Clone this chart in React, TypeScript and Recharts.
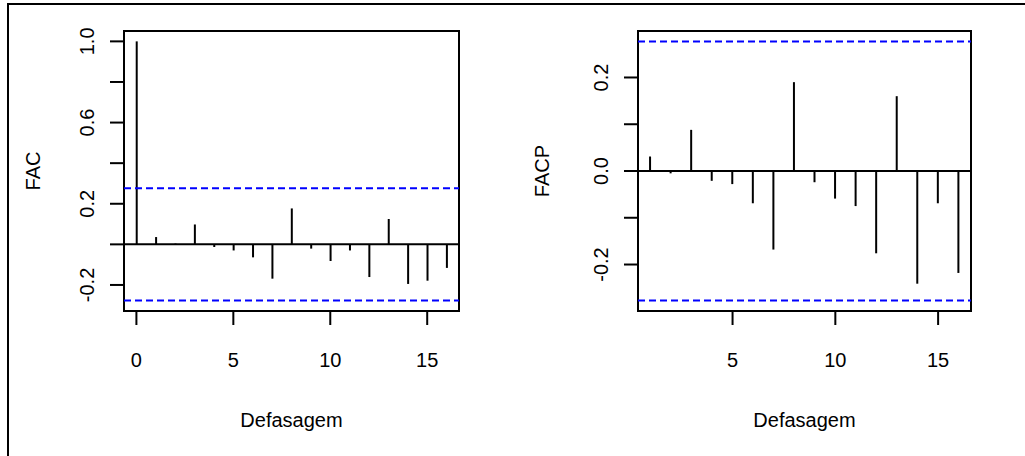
import { ComposedChart, Bar, XAxis, YAxis, ReferenceLine, ReferenceArea, Label } from 'recharts'

const acfLags = [0, 1, 2, 3, 4, 5, 6, 7, 8, 9, 10, 11, 12, 13, 14, 15, 16]
const acfValues = [1.0, 0.036, 0.004, 0.098, -0.013, -0.03, -0.064, -0.169, 0.177, -0.021, -0.082, -0.03, -0.161, 0.125, -0.195, -0.179, -0.116]

const pacfLags = [1, 2, 3, 4, 5, 6, 7, 8, 9, 10, 11, 12, 13, 14, 15, 16]
const pacfValues = [0.031, -0.005, 0.088, -0.021, -0.028, -0.069, -0.168, 0.19, -0.024, -0.059, -0.075, -0.176, 0.16, -0.241, -0.069, -0.218]

const confBound = 0.277

const xTicks = [0, 5, 10, 15]
const acfYTicks = [-0.2, 0, 0.2, 0.4, 0.6, 0.8, 1.0]
const acfYLabels = [-0.2, 0.2, 0.6, 1.0]
const pacfYTicks = [-0.2, -0.1, 0, 0.1, 0.2]
const pacfYLabels = [-0.2, 0, 0.2]

const FONT = '"Liberation Sans", Arial, Helvetica, sans-serif'
const FS = 20

const acfData = acfLags.map((lag, i) => ({ lag, v: acfValues[i] }))
const pacfData = pacfLags.map((lag, i) => ({ lag, v: pacfValues[i] }))

function YTick({ x, y, payload, labels }: any) {
  if (!labels.some((l: number) => Math.abs(l - payload.value) < 1e-9)) return null
  return (
    <text
      x={x}
      y={y}
      dy="0.36em"
      textAnchor="middle"
      transform={`rotate(-90, ${x}, ${y})`}
      fontFamily={FONT}
      fontSize={FS}
      fill="#000"
    >
      {payload.value.toFixed(1)}
    </text>
  )
}

function XTick({ x, y, payload }: any) {
  return (
    <text x={x} y={y} dy="0.71em" textAnchor="middle" fontFamily={FONT} fontSize={FS} fill="#000">
      {payload.value}
    </text>
  )
}

function YTitle({ viewBox, text, gap }: any) {
  const cx = viewBox.x + viewBox.width - gap
  const cy = viewBox.y + viewBox.height / 2
  return (
    <text
      x={cx}
      y={cy}
      dy="0.36em"
      textAnchor="middle"
      transform={`rotate(-90, ${cx}, ${cy})`}
      fontFamily={FONT}
      fontSize={FS}
      fill="#000"
    >
      {text}
    </text>
  )
}

function XTitle({ viewBox }: any) {
  const cx = viewBox.x + viewBox.width / 2
  const cy = viewBox.y + 109
  return (
    <text x={cx} y={cy} dy="0.36em" textAnchor="middle" fontFamily={FONT} fontSize={FS} fill="#000">
      Defasagem
    </text>
  )
}

function CorrPanel({
  data,
  xDomain,
  yDomain,
  yTicks,
  yLabels,
  title,
  yAxisWidth,
  rightMargin,
  titleGap,
  width,
}: {
  data: { lag: number; v: number }[]
  xDomain: [number, number]
  yDomain: [number, number]
  yTicks: number[]
  yLabels: number[]
  title: string
  yAxisWidth: number
  rightMargin: number
  titleGap: number
  width: number
}) {
  return (
    <ComposedChart width={width} height={456} data={data} margin={{ top: 31, right: rightMargin, bottom: 0, left: 0 }}>
      <XAxis
        dataKey="lag"
        type="number"
        domain={xDomain}
        allowDataOverflow
        ticks={xTicks.filter(t => t >= xDomain[0] && t <= xDomain[1])}
        interval={0}
        height={145}
        axisLine={false}
        tickSize={14}
        tickMargin={28}
        tickLine={{ stroke: '#000', strokeWidth: 2 }}
        tick={<XTick />}
        label={<Label content={(p: any) => <XTitle {...p} />} />}
      />
      <YAxis
        type="number"
        domain={yDomain}
        allowDataOverflow
        ticks={yTicks}
        interval={0}
        width={yAxisWidth}
        axisLine={false}
        tickSize={14}
        tickMargin={23}
        tickLine={{ stroke: '#000', strokeWidth: 2 }}
        tick={<YTick labels={yLabels} />}
        label={<Label content={(p: any) => <YTitle {...p} text={title} gap={titleGap} />} />}
      />
      <ReferenceArea
        x1={xDomain[0]}
        x2={xDomain[1]}
        y1={yDomain[0]}
        y2={yDomain[1]}
        fill="none"
        stroke="#000"
        strokeWidth={2}
        ifOverflow="visible"
      />
      <ReferenceLine y={0} stroke="#000" strokeWidth={2} />
      <ReferenceLine y={confBound} stroke="#0000ff" strokeWidth={2} strokeDasharray="7 4" />
      <ReferenceLine y={-confBound} stroke="#0000ff" strokeWidth={2} strokeDasharray="7 4" />
      <Bar dataKey="v" fill="#000" barSize={2} isAnimationActive={false} />
    </ComposedChart>
  )
}

export default function App() {
  return (
    <div
      style={{
        position: 'absolute',
        left: 0,
        top: 0,
        width: 1025,
        height: 456,
        background: '#fff',
        overflow: 'hidden',
        fontFamily: FONT,
      }}
    >
      <div
        style={{
          position: 'absolute',
          left: 7,
          top: 3,
          width: 1040,
          height: 470,
          borderTop: '2px solid #000',
          borderLeft: '2px solid #000',
        }}
      />
      <div style={{ position: 'absolute', left: 0, top: 0 }}>
        <CorrPanel
          data={acfData}
          xDomain={[-0.64, 16.64]}
          yDomain={[-0.3283, 1.0511]}
          yTicks={acfYTicks}
          yLabels={acfYLabels}
          title="FAC"
          yAxisWidth={124}
          rightMargin={53}
          titleGap={91}
          width={512}
        />
      </div>
      <div style={{ position: 'absolute', left: 512, top: 0 }}>
        <CorrPanel
          data={pacfData}
          xDomain={[0.4, 16.6]}
          yDomain={[-0.2994, 0.2994]}
          yTicks={pacfYTicks}
          yLabels={pacfYLabels}
          title="FACP"
          yAxisWidth={126}
          rightMargin={54}
          titleGap={96}
          width={513}
        />
      </div>
    </div>
  )
}
